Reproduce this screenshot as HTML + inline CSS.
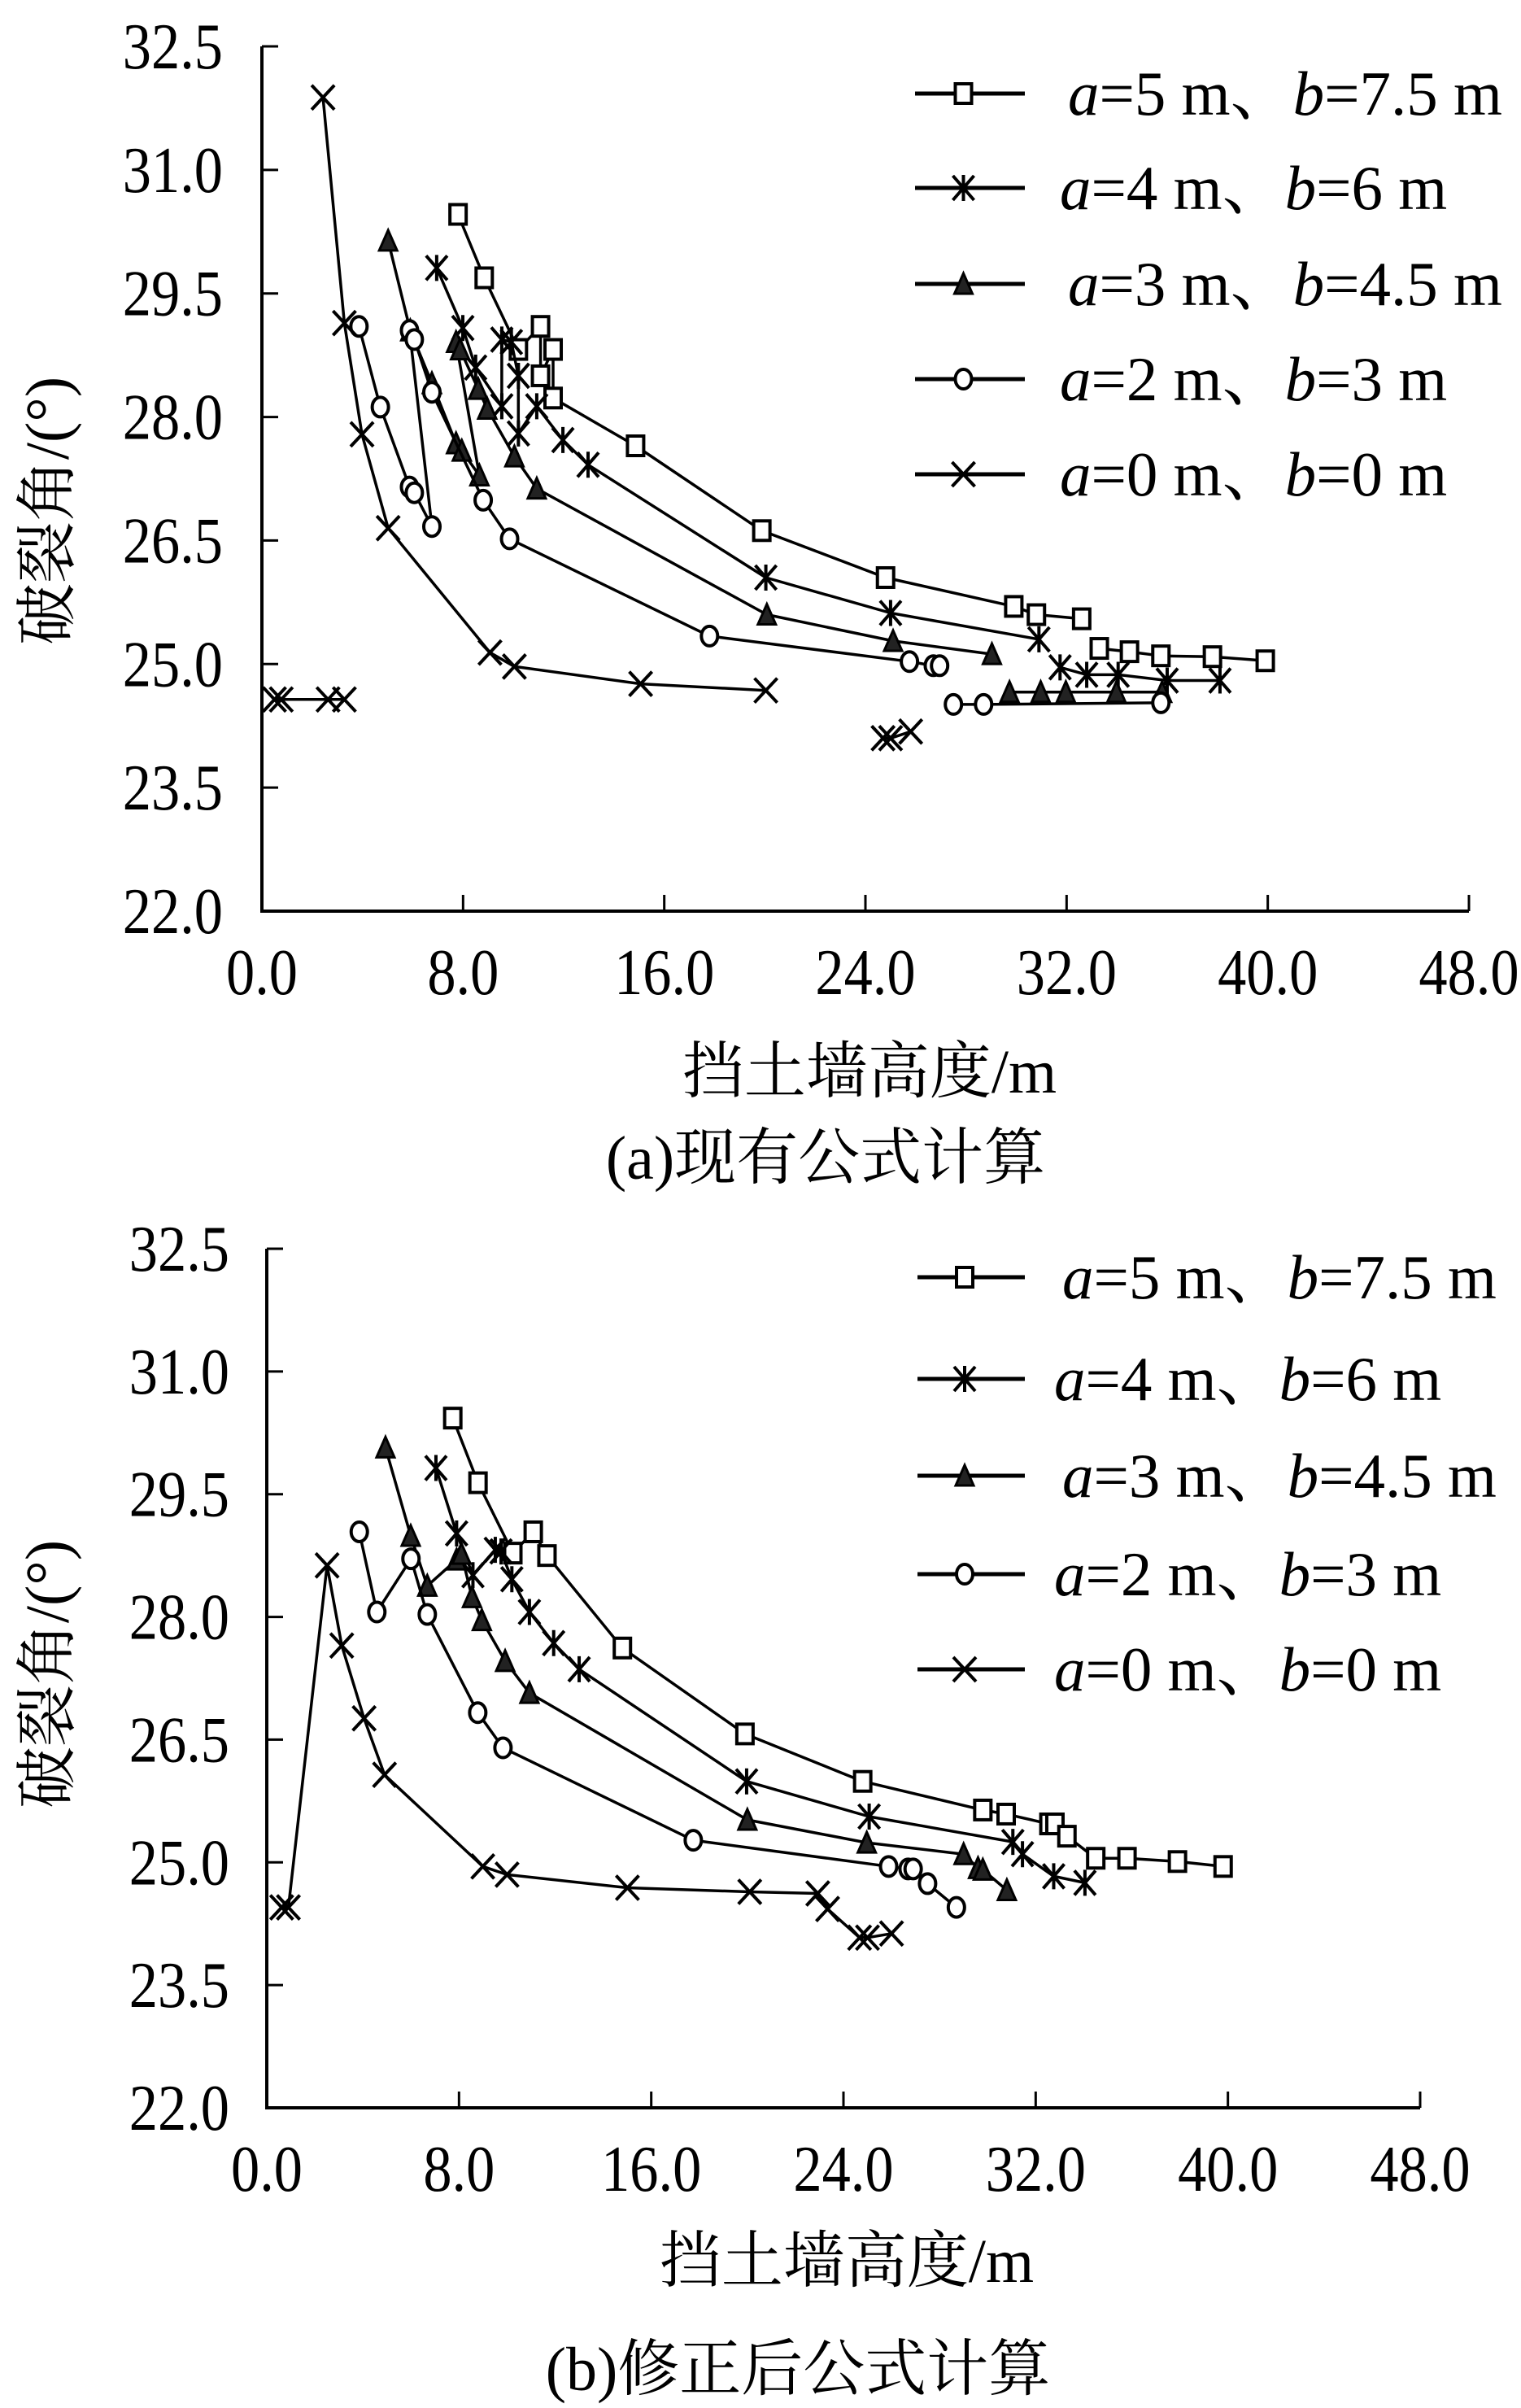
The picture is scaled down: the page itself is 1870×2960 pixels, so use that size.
<!DOCTYPE html>
<html><head><meta charset="utf-8">
<style>
html,body{margin:0;padding:0;background:#fff;}
svg{display:block;}
text, tspan{font-family:"Liberation Serif","DejaVu Serif","Noto Serif CJK SC",serif;fill:#000;}
</style></head>
<body>
<svg id="fig" width="1870" height="2960" viewBox="0 0 1870 2960" xmlns="http://www.w3.org/2000/svg" font-family="'Liberation Serif','DejaVu Serif','Noto Serif CJK SC',serif"></svg>
<script>
// ===== shared tick labels =====
const xTicks = [0, 8, 16, 24, 32, 40, 48];
const xTickLabels = ["0.0","8.0","16.0","24.0","32.0","40.0","48.0"];
const yTicks = [22.0, 23.5, 25.0, 26.5, 28.0, 29.5, 31.0, 32.5];
const yTickLabels = ["22.0","23.5","25.0","26.5","28.0","29.5","31.0","32.5"];
const seriesNames = ["a=5 m、b=7.5 m","a=4 m、b=6 m","a=3 m、b=4.5 m","a=2 m、b=3 m","a=0 m、b=0 m"];

// ===== chart (a) data =====
const aSq_x = [7.8,8.84,10.2,11.08,11.08,11.58,11.58,14.86,19.88,24.8,29.9,30.8,32.6,null,33.3,34.5,35.75,37.8,39.9];
const aSq_y = [30.46,29.69,28.82,29.1,28.5,28.82,28.23,27.65,26.62,26.05,25.7,25.6,25.55,null,25.19,25.15,25.1,25.09,25.04];
const aAst_x = [6.95,7.99,8.5,9.54,9.54,9.92,10.2,10.2,10.93,11.97,12.97,20.04,25.0,30.9,null,31.74,32.8,34.05,36.0,38.1];
const aAst_y = [29.81,29.08,28.6,28.13,28.94,28.91,28.5,27.8,28.13,27.72,27.42,26.05,25.62,25.3,null,24.96,24.87,24.87,24.8,24.8];
const aTri_x = [5.02,5.9,6.76,7.72,7.95,8.65,7.72,7.88,8.6,8.96,10.04,10.93,20.08,25.1,29.03,null,29.73,30.97,31.97,33.98,35.8];
const aTri_y = [30.14,29.05,28.41,27.68,27.59,27.29,28.91,28.82,28.34,28.1,27.52,27.13,25.6,25.28,25.12,null,24.66,24.66,24.66,24.66,24.66];
const aCir_x = [3.86,4.71,5.87,6.06,6.76,5.87,6.06,6.76,8.8,9.85,17.8,25.75,26.7,26.95,null,27.5,28.7,35.75];
const aCir_y = [29.1,28.12,27.15,27.08,26.67,29.05,28.94,28.3,26.99,26.52,25.34,25.03,24.98,24.98,null,24.51,24.51,24.53];
const aX_x = [2.43,3.28,3.98,5.02,9.07,10.04,15.06,20.04,null,0.5,0.77,2.63,3.28,null,24.7,25.0,25.8];
const aX_y = [31.88,29.14,27.79,26.65,25.14,24.97,24.76,24.68,null,24.57,24.57,24.57,24.57,null,24.1,24.1,24.18];

// ===== chart (b) data =====
const bSq_x = [7.74,8.79,10.24,11.09,11.66,14.8,19.9,24.8,29.8,30.77,32.55,32.8,33.3,34.5,35.8,37.9,39.8];
const bSq_y = [30.43,29.64,28.78,29.04,28.75,27.62,26.57,25.99,25.64,25.59,25.47,25.47,25.32,25.05,25.05,25.01,24.95];
const bAst_x = [7.04,7.9,8.58,9.51,9.75,10.2,10.93,11.94,13.0,19.97,25.07,31.05,31.45,32.75,34.05];
const bAst_y = [29.82,29.02,28.51,28.82,28.8,28.46,28.06,27.68,27.36,25.99,25.56,25.25,25.1,24.83,24.75];
const bTri_x = [4.94,5.99,6.68,7.9,8.1,8.54,8.95,9.92,10.93,20.0,24.97,29.0,29.6,29.8,30.8];
const bTri_y = [30.07,28.99,28.38,28.7,28.77,28.24,27.96,27.46,27.07,25.52,25.24,25.1,24.93,24.91,24.66];
const bCir_x = [3.85,4.58,6.0,6.68,8.78,9.83,17.75,25.88,26.69,26.9,27.5,28.7];
const bCir_y = [29.04,28.06,28.71,28.03,26.83,26.4,25.27,24.95,24.92,24.92,24.74,24.45];
const bX_x = [0.62,0.9,2.51,3.12,4.05,4.9,8.99,10.0,15.01,20.1,22.93,23.34,24.67,25.0,26.0];
const bX_y = [24.45,24.45,28.63,27.65,26.76,26.07,24.95,24.85,24.69,24.64,24.62,24.43,24.08,24.08,24.13];

const NS = "http://www.w3.org/2000/svg";
const FONT = "'Liberation Serif','DejaVu Serif','Noto Serif CJK SC',serif";
const svg = document.getElementById("fig");
function mk(tag, attrs, parent){
  const e = document.createElementNS(NS, tag);
  for (const k in attrs) e.setAttribute(k, attrs[k]);
  if (tag === "text") e.setAttribute("font-family", FONT);
  (parent||svg).appendChild(e);
  return e;
}
function marker(g, type, cx, cy){
  const s = 11;
  let el;
  if (type === "sq"){
    el = mk("rect",{x:cx-s+1,y:cy-s-1,width:2*s-2,height:2*s+2,fill:"#fff",stroke:"#000","stroke-width":4},g);
  } else if (type === "ast"){
    el = mk("path",{d:`M${cx-13},${cy-15}L${cx+13},${cy+15}M${cx-13},${cy+15}L${cx+13},${cy-15}M${cx},${cy-16}L${cx},${cy+16}`,fill:"none",stroke:"#000","stroke-width":4},g);
  } else if (type === "tri"){
    el = mk("path",{d:`M${cx},${cy-13}L${cx+11},${cy+12}L${cx-11},${cy+12}Z`,fill:"#222",stroke:"#000","stroke-width":3},g);
  } else if (type === "cir"){
    el = mk("ellipse",{cx:cx,cy:cy,rx:10,ry:12,fill:"#fff",stroke:"#000","stroke-width":4},g);
  } else {
    el = mk("path",{d:`M${cx-14},${cy-15}L${cx+14},${cy+15}M${cx-14},${cy+15}L${cx+14},${cy-15}`,fill:"none",stroke:"#000","stroke-width":4},g);
  }
  
  
}

function drawChart(cfg){
  const g = mk("g",{});
  
  
  const sx = v => cfg.x0 + (v - 0) / 48 * (cfg.x1 - cfg.x0);
  const sy = v => cfg.yBot - (v - 22) / 10.5 * (cfg.yBot - cfg.yTop);
  const ax = mk("path",{d:`M${cfg.x0},${cfg.yTop}L${cfg.x0},${cfg.yBot}L${cfg.x1},${cfg.yBot}`,fill:"none",stroke:"#000","stroke-width":4},g);
  
  
  xTicks.forEach((t,i)=>{
    const tk = mk("line",{x1:sx(t),x2:sx(t),y1:cfg.yBot,y2:cfg.yBot-20,stroke:"#000","stroke-width":3},g);
    
    
    const tl = mk("text",{x:0,y:0,"font-size":80,"text-anchor":"middle",transform:`translate(${sx(t)},${cfg.yBot+102}) scale(0.88,1)`},g);
    tl.textContent = xTickLabels[i];
    
    
  });
  yTicks.forEach((t,i)=>{
    const tk = mk("line",{x1:cfg.x0,x2:cfg.x0+20,y1:sy(t),y2:sy(t),stroke:"#000","stroke-width":3},g);
    
    
    const tl = mk("text",{x:0,y:0,"font-size":80,"text-anchor":"end",transform:`translate(${cfg.yLabRight},${sy(t)+27}) scale(0.88,1)`},g);
    tl.textContent = yTickLabels[i];
    
    
  });
  const xt = mk("text",{x:cfg.xTitleX,y:cfg.xTitleY+27,"font-size":76,"text-anchor":"middle"},g);
  xt.textContent = "挡土墙高度/m";
  
  
  const yt = mk("text",{x:0,y:0,"font-size":76,"text-anchor":"middle",transform:`translate(${58+26},${cfg.yTitleY}) rotate(-90)`},g);
  yt.textContent = "破裂角/(°)";
  
  
  const cap = mk("text",{x:cfg.capX,y:cfg.capY+27,"font-size":76,"text-anchor":"middle"},g);
  cap.textContent = cfg.caption;
  
  
  const types = ["sq","ast","tri","cir","x"];
  cfg.series.forEach((s,si)=>{
    const sg = mk("g",{},g);
    
    
    let d = "", pen = false;
    for (let i=0;i<s[0].length;i++){
      if (s[0][i] === null){ pen = false; continue; }
      d += (pen ? "L" : "M") + sx(s[0][i]).toFixed(1) + "," + sy(s[1][i]).toFixed(1);
      pen = true;
    }
    const ln = mk("path",{d:d,fill:"none",stroke:"#000","stroke-width":3.5,"stroke-linejoin":"round"},sg);
    
    
    for (let i=0;i<s[0].length;i++){
      if (s[0][i] === null) continue;
      marker(sg, types[si], sx(s[0][i]), sy(s[1][i]));
    }
  });
  cfg.legendY.forEach((ly,i)=>{
    const lg = mk("g",{},g);
    
    
    mk("line",{x1:cfg.legX0,x2:cfg.legX1,y1:ly,y2:ly,stroke:"#000","stroke-width":5},lg);
    marker(lg, types[i], (cfg.legX0+cfg.legX1)/2 - 8, ly);
    const parts = seriesNames[i].split(/[ab]=/);
    const tx = mk("text",{x:cfg.legTextX + ((i===0||i===2)?10:0),y:ly+26,"font-size":77},lg);
    const t1 = mk("tspan",{"font-style":"italic"},tx); t1.textContent = "a";
    const t2 = mk("tspan",{},tx); t2.textContent = "=" + parts[1];
    const t3 = mk("tspan",{"font-style":"italic"},tx); t3.textContent = "b";
    const t4 = mk("tspan",{},tx); t4.textContent = "=" + parts[2];
  });
}

drawChart({name:"chart-a", x0:322, x1:1806, yTop:57, yBot:1120, yLabRight:274,
  xTitleX:1069, xTitleY:1316, yTitleY:628, capX:1015, capY:1422, caption:"(a)现有公式计算",
  legX0:1125, legX1:1260, legTextX:1303, legendY:[115,231,349,466,583],
  series:[[aSq_x,aSq_y],[aAst_x,aAst_y],[aTri_x,aTri_y],[aCir_x,aCir_y],[aX_x,aX_y]]});
drawChart({name:"chart-b", x0:328, x1:1746, yTop:1535, yBot:2591, yLabRight:282,
  xTitleX:1041, xTitleY:2778, yTitleY:2058, capX:981, capY:2911, caption:"(b)修正后公式计算",
  legX0:1128, legX1:1260, legTextX:1296, legendY:[1570,1695,1814,1935,2052],
  series:[[bSq_x,bSq_y],[bAst_x,bAst_y],[bTri_x,bTri_y],[bCir_x,bCir_y],[bX_x,bX_y]]});
</script>
</body></html>
